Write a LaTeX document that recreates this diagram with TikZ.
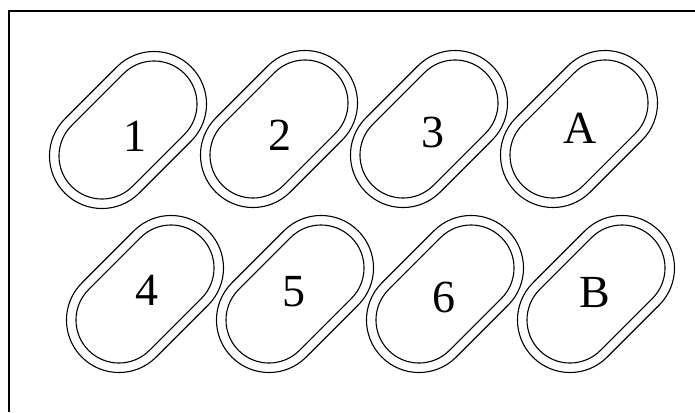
\documentclass[tikz,border=0pt]{standalone}
\usepackage{fontspec}
\setmainfont{Liberation Serif}
\begin{document}
\begin{tikzpicture}[x=1pt,y=-1pt,
  pillline/.style={line width=1.1pt,black},
  lbl/.style={inner sep=0pt,font=\fontsize{46}{50}\selectfont},
  pill/.pic={
    \draw[pillline,rotate=45] (-36.8pt,-52.5pt) -- (36.8pt,-52.5pt)
      arc[start angle=-90,end angle=90,radius=52.5pt] -- (-36.8pt,52.5pt)
      arc[start angle=90,end angle=270,radius=52.5pt] -- cycle;
    \draw[pillline,rotate=45] (-36.8pt,-43pt) -- (36.8pt,-43pt)
      arc[start angle=-90,end angle=90,radius=43pt] -- (-36.8pt,43pt)
      arc[start angle=90,end angle=270,radius=43pt] -- cycle;
  }]
\useasboundingbox (0,0) rectangle (695,412);
\coordinate (f1) at (9,412);
\coordinate (f2) at (9,11);
\coordinate (f3) at (695,11);
\draw[line width=1.2pt] (f1) -- (f2) -- (f3);
% top row
\pic at (128,130) {pill};
\pic at (279,129) {pill};
\pic at (429,129) {pill};
\pic at (579,129) {pill};
% bottom row
\pic at (145,294) {pill};
\pic at (295,294) {pill};
\pic at (445,294) {pill};
\pic at (596,294) {pill};
% labels
\node[lbl] (l1) at (135,136) {1};
\node[lbl] (l2) at (280,135) {2};
\node[lbl] (l3) at (433,132) {3};
\node[lbl] (lA) at (580,128) {A};
\node[lbl] (l4) at (147,290) {4};
\node[lbl] (l5) at (294,292) {5};
\node[lbl] (l6) at (444,297) {6};
\node[lbl] (lB) at (595,293) {B};
\end{tikzpicture}
\end{document}
